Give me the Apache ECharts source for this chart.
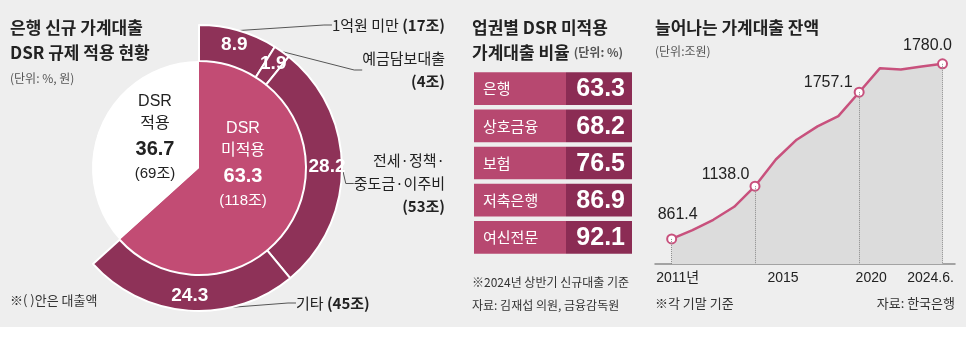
<!DOCTYPE html>
<html>
<head>
<meta charset="utf-8">
<script src="https://cdn.jsdelivr.net/npm/echarts@6/dist/echarts.min.js"></script>
<style>
    html, body { margin: 0; padding: 0; background: #fff; }
    #main { width: 966px; height: 351px; background: linear-gradient(#eeeeee 0, #eeeeee 327px, #ffffff 327px); }
</style>
</head>
<body>
<div id="main"></div>
<script>
    // 은행 신규 가계대출 DSR 적용 현황 (단위: %)
    var dsrNames = ['DSR 미적용', 'DSR 적용']
    var dsrShares = [63.3, 36.7]
    var dsrAmounts = ['118조', '69조']
    // DSR 미적용 대출의 세부 구성
    var typeNames = ['1억원 미만', '예금담보대출', '전세·정책·\n중도금·이주비', '기타']
    var typeShares = [8.9, 1.9, 28.2, 24.3]
    var typeAmounts = ['17조', '4조', '53조', '45조']

    // 업권별 DSR 미적용 가계대출 비율 (단위: %)
    var sectors = ['은행', '상호금융', '보험', '저축은행', '여신전문']
    var sectorRates = [63.3, 68.2, 76.5, 86.9, 92.1]

    // 가계대출 잔액 (단위: 조원, 각 기말)
    var years = ['2011', '2012', '2013', '2014', '2015', '2016', '2017', '2018', '2019', '2020', '2021', '2022', '2023', '2024.6']
    var balance = [861.4, 908, 962, 1030, 1138.0, 1278, 1382, 1452, 1506, 1631, 1757.1, 1750, 1766, 1780.0]
    var markedIdx = [0, 4, 9, 13]
    var markedText = ['861.4', '1138.0', '1757.1', '1780.0']
    var axisYears = ['2011년', '2015', '2020', '2024.6.']

    var KR = "'Noto Sans CJK KR', sans-serif"
    var NUM = "'Liberation Sans', 'Noto Sans CJK KR', sans-serif"
    var pink = '#c24c74', wine = '#8e3258'
    var cellPink = '#b74870', cellWine = '#8b2c54'
    var lineColor = '#c8517d'
    var yMin = 730, yMax = 1800

    // 바깥 고리 설명 위치
    var callout = [
        { x: 445, y: 25, align: 'right', verticalAlign: 'middle', sep: ' ' },
        { x: 445, y: 47, align: 'right', verticalAlign: 'top', sep: '\n' },
        { x: 445, y: 149, align: 'right', verticalAlign: 'top', sep: '\n' },
        { x: 296, y: 303, align: 'left', verticalAlign: 'middle', sep: ' ' }
    ]
    var innerPos = [{ x: 243, y: 165 }, { x: 155, y: 138 }]
    // 꺾은선 수치 라벨 위치
    var pointLabel = [
        { position: 'top', offset: [6, -6] },
        { position: 'left', offset: [5, -12] },
        { position: 'left', offset: [4, -10] },
        { position: 'top', offset: [-15, 0] }
    ]
    var axisShift = [6, 28, 12, -12]

    function ringData() {
        var d = typeShares.map(function (v, i) { return { name: typeNames[i], value: v } })
        d.push({ name: '', value: dsrShares[1], itemStyle: { color: 'rgba(0,0,0,0)', borderWidth: 0 },
            label: { show: false }, labelLine: { show: false } })
        return d
    }

    function text(t, left, top, style) {
        return { text: t, left: left, top: top, padding: 0, itemGap: 0,
            textStyle: Object.assign({ fontFamily: KR, color: '#222' }, style) }
    }

    var option = {
        animation: false,
        title: [
            text('은행 신규 가계대출\nDSR 규제 적용 현황', 10, 15, { fontSize: 17, fontWeight: 'bold', lineHeight: 25 }),
            text('(단위: %, 원)', 10, 70, { fontSize: 12, color: '#555', fontWeight: 'normal', lineHeight: 16 }),
            text('※( )안은 대출액', 10, 292, { fontSize: 13, color: '#333', fontWeight: 'normal', lineHeight: 16 }),
            text('{t|업권별 DSR 미적용}\n{t|가계대출 비율} {u|(단위: %)}', 472, 15, {
                rich: {
                    t: { fontFamily: KR, fontSize: 17, fontWeight: 'bold', lineHeight: 25, color: '#222' },
                    u: { fontFamily: KR, fontSize: 12, lineHeight: 25, color: '#555' }
                }
            }),
            text('※2024년 상반기 신규대출 기준', 472, 274, { fontSize: 12, color: '#333', fontWeight: 'normal', lineHeight: 16 }),
            text('자료: 김재섭 의원, 금융감독원', 472, 297, { fontSize: 12, color: '#333', fontWeight: 'normal', lineHeight: 16 }),
            text('늘어나는 가계대출 잔액', 655, 15, { fontSize: 17, fontWeight: 'bold', lineHeight: 25 }),
            text('(단위:조원)', 655, 43, { fontSize: 12, color: '#555', fontWeight: 'normal', lineHeight: 16 }),
            text('※각 기말 기준', 655, 295, { fontSize: 13, color: '#333', fontWeight: 'normal', lineHeight: 16 }),
            { text: '자료: 한국은행', right: 11, top: 295, padding: 0,
                textStyle: { fontFamily: KR, fontSize: 13, color: '#333', fontWeight: 'normal', lineHeight: 16 } }
        ],
        grid: [
            { left: 474, top: 70, width: 158, height: 186 },
            { left: 655, right: 11, top: 60, bottom: 87 }
        ],
        xAxis: [
            { gridIndex: 0, type: 'value', min: 0, max: 1, show: false },
            {
                gridIndex: 1, type: 'value', min: -0.8, max: 13.6,
                axisLine: { show: true, lineStyle: { color: '#8a8a8a', width: 1.5 } },
                axisTick: { show: false },
                splitLine: { show: false },
                axisLabel: {
                    customValues: markedIdx,
                    margin: 7,
                    formatter: function (v) {
                        var k = markedIdx.indexOf(v)
                        return '{y' + k + '|' + axisYears[k] + '}'
                    },
                    rich: (function () {
                        var r = {}
                        axisShift.forEach(function (s, k) {
                            r['y' + k] = { fontFamily: NUM, fontSize: 14, color: '#222',
                                padding: s >= 0 ? [0, 0, 0, 2 * s] : [0, -2 * s, 0, 0] }
                        })
                        return r
                    })()
                }
            }
        ],
        yAxis: [
            { gridIndex: 0, type: 'category', data: sectors, inverse: true, show: false },
            { gridIndex: 1, type: 'value', min: yMin, max: yMax, show: false }
        ],
        series: [
            {
                // DSR 적용 / 미적용
                type: 'pie', center: [199, 168], radius: [0, 107], startAngle: 90, clockwise: true,
                silent: true, avoidLabelOverlap: false,
                data: dsrNames.map(function (n, i) {
                    return { name: n, value: dsrShares[i],
                        itemStyle: { color: i === 0 ? pink : '#ffffff' },
                        label: { color: i === 0 ? '#fff' : '#222' } }
                }),
                label: {
                    position: 'inside',
                    formatter: function (p) {
                        var parts = dsrNames[p.dataIndex].split(' ')
                        return '{n|' + parts[0] + '}\n{n|' + parts[1] + '}\n{v|' +
                            dsrShares[p.dataIndex].toFixed(1) + '}\n{a|(' + dsrAmounts[p.dataIndex] + ')}'
                    },
                    rich: {
                        n: { fontFamily: NUM, fontSize: 16, lineHeight: 22 },
                        v: { fontFamily: NUM, fontSize: 20, fontWeight: 'bold', lineHeight: 28 },
                        a: { fontFamily: NUM, fontSize: 15, lineHeight: 22 }
                    }
                },
                labelLayout: function (p) {
                    return { x: innerPos[p.dataIndex].x, y: innerPos[p.dataIndex].y, align: 'center', verticalAlign: 'middle' }
                }
            },
            {
                // 미적용 세부 고리
                type: 'pie', center: [199, 168], radius: [107, 143], startAngle: 90, clockwise: true,
                silent: true, avoidLabelOverlap: false,
                itemStyle: { color: wine, borderColor: '#ffffff', borderWidth: 2 },
                data: ringData(),
                label: {
                    position: 'inside', color: '#fff', fontFamily: NUM, fontSize: 19, fontWeight: 'bold',
                    formatter: function (p) {
                        return p.dataIndex < typeShares.length ? typeShares[p.dataIndex].toFixed(1) : ''
                    }
                }
            },
            {
                // 고리 설명선
                type: 'pie', center: [199, 168], radius: [107, 143], startAngle: 90, clockwise: true,
                silent: true, avoidLabelOverlap: false,
                itemStyle: { color: 'rgba(0,0,0,0)' },
                data: ringData(),
                label: {
                    position: 'outside', alignTo: 'none',
                    formatter: function (p) {
                        if (p.dataIndex >= typeNames.length) return ''
                        var lines = typeNames[p.dataIndex].split('\n').map(function (s) { return '{n|' + s + '}' })
                        return lines.join('\n') + callout[p.dataIndex].sep + '{b|(' + typeAmounts[p.dataIndex] + ')}'
                    },
                    rich: {
                        n: { fontFamily: KR, fontSize: 15, color: '#222', lineHeight: 23 },
                        b: { fontFamily: KR, fontSize: 15, fontWeight: 'bold', color: '#222', lineHeight: 23 }
                    }
                },
                labelLine: { show: true, length: 8, length2: 8, lineStyle: { color: '#555', width: 1 } },
                labelLayout: function (p) {
                    var c = callout[p.dataIndex]
                    if (!c) return {}
                    return { x: c.x, y: c.y, align: c.align, verticalAlign: c.verticalAlign }
                }
            },
            {
                // 업권별 표
                type: 'custom', xAxisIndex: 0, yAxisIndex: 0, silent: true,
                data: sectors.map(function (s, i) { return [0, i, sectorRates[i]] }),
                encode: { x: 0, y: 1 },
                renderItem: function (params, api) {
                    var row = api.value(1)
                    var pt = api.coord([0, row])
                    var h = api.size([0, 1])[1] - 4.5
                    var cs = params.coordSys
                    var split = cs.x + 92
                    var top = pt[1] - h / 2
                    var rate = sectorRates[params.dataIndex]
                    return {
                        type: 'group',
                        children: [
                            { type: 'rect', shape: { x: cs.x, y: top, width: split - cs.x, height: h }, style: { fill: cellPink } },
                            { type: 'rect', shape: { x: split, y: top, width: cs.x + cs.width - split, height: h }, style: { fill: cellWine } },
                            { type: 'text', x: cs.x + 9, y: pt[1], style: { text: sectors[params.dataIndex], fill: '#fff',
                                font: '15px ' + KR, verticalAlign: 'middle', align: 'left' } },
                            { type: 'text', x: cs.x + cs.width - 7, y: pt[1] + 1, style: { text: rate.toFixed(1), fill: '#fff',
                                font: 'bold 25px ' + NUM, verticalAlign: 'middle', align: 'right' } }
                        ]
                    }
                }
            },
            {
                // 가계대출 잔액
                type: 'line', xAxisIndex: 1, yAxisIndex: 1,
                showSymbol: true, showAllSymbol: true, silent: true,
                data: balance.map(function (v, i) {
                    var k = markedIdx.indexOf(i)
                    if (k < 0) return { value: [i, v], symbol: 'none' }
                    return {
                        value: [i, v], symbol: 'circle', symbolSize: 9,
                        label: { show: true, formatter: markedText[k], position: pointLabel[k].position,
                            offset: pointLabel[k].offset, fontFamily: NUM, fontSize: 16, color: '#222' }
                    }
                }),
                lineStyle: { color: lineColor, width: 2.5 },
                itemStyle: { color: '#ffffff', borderColor: lineColor, borderWidth: 2 },
                areaStyle: { color: '#dcdcdc', opacity: 1, origin: 'start' },
                markLine: {
                    silent: true, symbol: 'none', label: { show: false },
                    lineStyle: { type: 'dotted', color: '#8a8a8a', width: 1 },
                    data: markedIdx.map(function (i) {
                        return [{ coord: [i, balance[i]] }, { coord: [i, yMin] }]
                    })
                },
                z: 3
            }
        ]
    }

    var myChart = echarts.init(document.getElementById('main'), null, { renderer: 'canvas' })
    myChart.setOption(option)
</script>
</body>
</html>
